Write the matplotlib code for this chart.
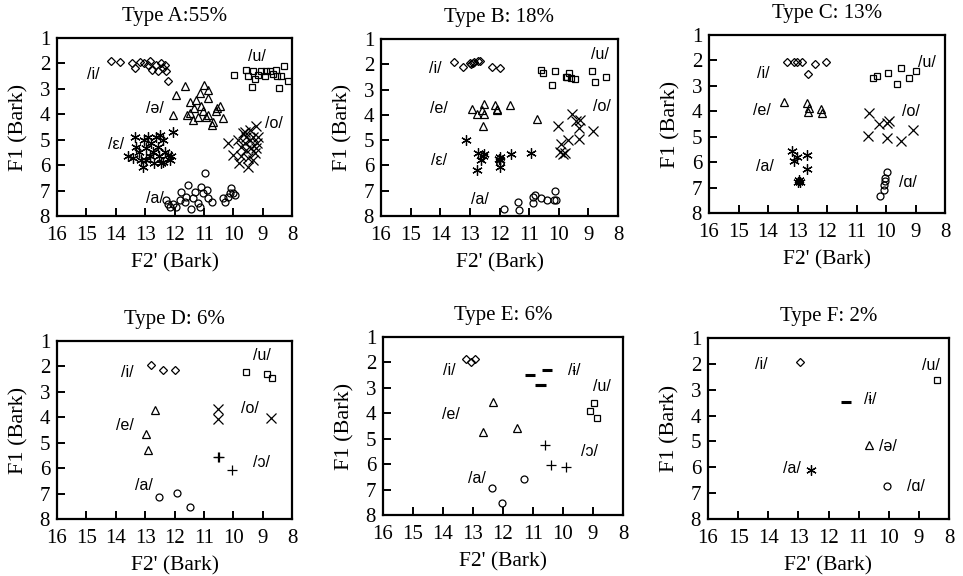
import matplotlib

matplotlib.use("Agg")

import matplotlib.pyplot as plt

plt.rcParams["font.family"] = "Liberation Serif"

# ---- data: (F2', F1) in Bark ----
A_i = [(14.15, 1.89), (13.87, 1.95), (13.43, 1.99), (13.35, 2.18), (13.18, 1.96), (12.9, 2.08),
       (12.84, 1.92), (12.75, 2.25), (12.62, 2.05), (12.56, 2.29), (12.47, 1.98), (12.39, 2.18),
       (12.31, 2.05), (12.28, 2.31), (12.22, 2.68), (13.05, 2.0)]
A_u = [(9.97, 2.45), (9.55, 2.25), (9.5, 2.49), (9.33, 2.31), (9.27, 2.62), (9.35, 2.93),
       (9.16, 2.45), (9.04, 2.29), (8.93, 2.49), (8.76, 2.31), (8.64, 2.41), (8.5, 2.51),
       (8.38, 2.49), (8.27, 2.12), (8.44, 2.97), (8.13, 2.68), (8.53, 2.25), (8.87, 2.31)]
A_schwa = [(11.96, 3.23), (12.04, 4.02), (11.65, 2.9), (11.48, 3.5), (11.35, 3.76), (11.48, 3.96),
           (11.27, 3.43), (11.2, 4.09), (11.09, 3.69), (11.03, 3.89), (11.01, 2.84), (11.14, 3.17),
           (10.86, 3.37), (10.92, 4.09), (10.86, 4.02), (10.74, 4.42), (10.69, 4.29), (10.57, 3.76),
           (10.44, 3.67), (10.35, 4.15), (10.86, 3.04), (11.59, 4.02), (11.36, 4.22), (10.6, 3.87)]
A_eps = [(13.58, 5.66), (13.41, 5.73), (13.35, 4.88), (13.3, 5.27), (13.21, 5.47), (13.13, 5.8),
         (13.07, 6.06), (13.05, 5.01), (12.96, 5.34), (12.9, 4.88), (12.84, 5.66), (12.79, 5.14),
         (12.73, 5.47), (12.7, 5.93), (12.62, 4.88), (12.56, 5.27), (12.53, 5.66), (12.45, 5.93),
         (12.39, 5.01), (12.33, 5.47), (12.22, 5.6), (12.16, 5.8), (12.11, 5.66), (12.05, 4.68),
         (12.5, 4.81), (12.39, 5.86), (12.96, 5.8)]
A_o = [(10.18, 5.11), (10.01, 5.6), (9.8, 5.93), (9.72, 5.66), (9.67, 4.74), (9.61, 5.14),
       (9.55, 5.4), (9.5, 5.73), (9.44, 4.61), (9.42, 5.01), (9.38, 5.34), (9.33, 4.88),
       (9.27, 5.53), (9.21, 4.48), (9.19, 5.14), (9.16, 4.88), (9.55, 4.88), (9.72, 5.27),
       (9.33, 5.8), (9.5, 6.06), (9.61, 4.68), (9.84, 5.01), (9.24, 5.34)]
A_a = [(12.28, 7.37), (12.22, 7.53), (12.14, 7.66), (12.05, 7.53), (11.94, 7.64), (11.82, 7.37),
       (11.77, 7.04), (11.65, 7.44), (11.6, 7.24), (11.54, 6.78), (11.43, 7.74), (11.37, 7.31),
       (11.31, 7.04), (11.2, 7.5), (11.14, 7.64), (11.03, 7.11), (11.09, 6.85), (10.97, 6.3),
       (10.91, 6.97), (10.86, 7.31), (10.74, 7.44), (10.35, 7.31), (10.29, 7.44), (10.18, 7.24),
       (10.06, 6.91), (10.01, 7.11), (9.95, 7.18), (10.12, 7.08)]

B_i = [(13.55, 1.9), (13.24, 2.12), (12.99, 1.96), (12.9, 1.94), (12.86, 1.9), (12.74, 1.87),
       (12.65, 1.86), (12.24, 2.1), (11.98, 2.16), (12.96, 1.99)]
B_u = [(10.59, 2.23), (10.54, 2.33), (10.14, 2.27), (10.23, 2.82), (9.72, 2.52), (9.64, 2.33),
       (9.59, 2.56), (9.44, 2.6), (8.88, 2.27), (8.77, 2.69), (8.39, 2.49), (9.75, 2.52)]
B_e = [(12.94, 3.75), (12.77, 3.95), (12.54, 3.58), (12.52, 3.95), (12.15, 3.62), (12.07, 3.75),
       (12.07, 3.81), (12.56, 4.45), (11.64, 3.62), (10.74, 4.18), (12.6, 3.81)]
B_o = [(10.04, 4.45), (9.93, 5.16), (9.95, 5.46), (9.84, 5.56), (9.7, 5.0), (9.55, 3.95),
       (9.41, 4.24), (9.3, 4.5), (9.3, 4.94), (9.27, 4.19), (8.85, 4.63), (9.78, 5.5)]
B_eps = [(13.14, 5.0), (12.74, 5.5), (12.77, 6.17), (12.57, 5.64), (12.54, 5.56), (12.63, 5.77),
         (12.03, 5.74), (12.0, 5.66), (11.98, 6.06), (11.62, 5.56), (10.94, 5.5), (11.98, 5.77)]
B_a = [(11.86, 7.71), (11.36, 7.45), (11.34, 7.75), (10.88, 7.25), (10.88, 7.49), (10.79, 7.18),
       (10.6, 7.27), (10.38, 7.38), (10.17, 7.35), (10.14, 7.02), (10.08, 7.35), (11.98, 5.9)]

C_i = [(13.37, 2.05), (13.12, 2.05), (13.03, 2.05), (12.86, 2.05), (12.64, 2.53), (12.41, 2.14),
       (12.05, 2.07)]
C_u = [(10.44, 2.7), (10.3, 2.6), (9.93, 2.51), (9.62, 2.94), (9.48, 2.28), (9.22, 2.71), (9.0, 2.41)]
C_e = [(13.46, 3.64), (12.67, 3.68), (12.63, 4.01), (12.61, 3.88), (12.21, 3.92), (12.16, 4.05)]
C_o = [(10.58, 4.08), (10.6, 4.99), (10.23, 4.49), (9.98, 4.47), (9.89, 4.4), (9.98, 5.06),
       (9.48, 5.15), (9.1, 4.73)]
C_a = [(13.2, 5.58), (13.12, 5.97), (13.03, 5.78), (12.69, 5.71), (12.69, 6.27), (12.94, 6.69),
       (12.92, 6.8), (13.0, 6.8)]
C_ao = [(9.98, 6.37), (10.04, 6.63), (10.04, 6.76), (10.06, 6.89), (10.07, 7.11), (10.19, 7.32)]

D_i = [(12.8, 1.93), (12.38, 2.13), (11.98, 2.13)]
D_u = [(9.57, 2.22), (8.84, 2.28), (8.67, 2.44)]
D_e = [(12.66, 3.72), (12.96, 4.64), (12.9, 5.27)]
D_o = [(10.51, 3.66), (10.51, 4.05), (8.7, 4.02)]
D_oo = [(10.51, 5.55), (10.48, 5.55), (10.04, 6.08)]
D_a = [(12.52, 7.15), (11.93, 6.96), (11.48, 7.52)]

E_i = [(13.22, 1.88), (13.06, 1.98), (12.94, 1.88)]
E_bar = [(11.11, 2.5), (10.52, 2.31), (10.72, 2.87), (10.76, 2.87)]
E_u = [(8.98, 3.59), (9.09, 3.91), (8.87, 4.18)]
E_e = [(12.33, 3.55), (12.67, 4.73), (11.53, 4.56)]
E_oo = [(10.59, 5.23), (10.41, 6.04), (9.91, 6.1)]
E_a = [(12.37, 6.92), (12.03, 7.51), (11.3, 6.59)]

F_i = [(12.94, 1.94)]
F_u = [(8.39, 2.64)]
F_bar = [(11.41, 3.47)]
F_schwa = [(10.67, 5.15)]
F_a = [(12.57, 6.09)]
F_ao = [(10.05, 6.73)]

# vowel labels: (text, F2', F1)
A_labels = [("/i/", 14.77, 2.45), ("/u/", 9.2, 1.72), ("/ə/", 12.67, 3.76),
            ("/o/", 8.6, 4.35), ("/ε/", 13.98, 5.2), ("/a/", 12.67, 7.3)]
B_labels = [("/i/", 14.17, 2.16), ("/u/", 8.6, 1.63), ("/e/", 14.06, 3.75),
            ("/o/", 8.54, 3.68), ("/ε/", 14.04, 5.8), ("/a/", 12.65, 7.34)]
C_labels = [("/i/", 14.16, 2.5), ("/u/", 8.61, 2.09), ("/e/", 14.22, 3.98),
            ("/o/", 9.14, 4.01), ("/a/", 14.1, 6.17), ("/ɑ/", 9.25, 6.82)]
D_labels = [("/i/", 13.62, 2.22), ("/u/", 9.04, 1.56), ("/e/", 13.68, 4.34),
            ("/o/", 9.42, 3.66), ("/ɔ/", 9.04, 5.79), ("/a/", 13.04, 6.67)]
E_labels = [("/i/", 13.78, 2.31), ("/ɨ/", 9.61, 2.31), ("/u/", 8.69, 2.96),
            ("/e/", 13.72, 4.04), ("/ɔ/", 9.11, 5.52), ("/a/", 12.87, 6.56)]
F_labels = [("/i/", 14.23, 2.03), ("/u/", 8.59, 2.07), ("/ɨ/", 10.63, 3.38),
            ("/ə/", 10.03, 5.19), ("/a/", 13.23, 6.06), ("/ɑ/", 9.09, 6.73)]

TITLES = ["Type A:55%", "Type B: 18%", "Type C: 13%", "Type D: 6%", "Type E: 6%", "Type F: 2%"]

MARKERS = {
    "diamond": dict(marker="D", ms=4.2),
    "square": dict(marker="s", ms=4.8),
    "triangle": dict(marker="^", ms=5.5),
    "cross": dict(marker="x", ms=6.5),
    "aster": dict(marker=(6, 2, 0), ms=7.5),
    "circle": dict(marker="o", ms=5.0),
    "plus": dict(marker="+", ms=6.5),
    "bar": dict(marker="_", ms=7.0, mew=2.2),
}

PANELS = [
    ([("diamond", A_i), ("square", A_u), ("triangle", A_schwa), ("aster", A_eps),
      ("cross", A_o), ("circle", A_a)], A_labels),
    ([("diamond", B_i), ("square", B_u), ("triangle", B_e), ("cross", B_o),
      ("aster", B_eps), ("circle", B_a)], B_labels),
    ([("diamond", C_i), ("square", C_u), ("triangle", C_e), ("cross", C_o),
      ("aster", C_a), ("circle", C_ao)], C_labels),
    ([("diamond", D_i), ("square", D_u), ("triangle", D_e), ("cross", D_o),
      ("plus", D_oo), ("circle", D_a)], D_labels),
    ([("diamond", E_i), ("bar", E_bar), ("square", E_u), ("triangle", E_e),
      ("plus", E_oo), ("circle", E_a)], E_labels),
    ([("diamond", F_i), ("square", F_u), ("bar", F_bar), ("triangle", F_schwa),
      ("aster", F_a), ("circle", F_ao)], F_labels),
]

# axes boxes in pixels: left, top, right, bottom
BOXES = [(57, 38, 292, 216), (381, 39, 618, 216), (709, 35, 945, 213),
         (57, 341, 292, 519), (383, 337, 623, 515), (708, 338, 949, 519)]

W, H = 963, 576
fig = plt.figure(figsize=(W / 100, H / 100), dpi=100)

for (series, labels), title, (l, t, r, b) in zip(PANELS, TITLES, BOXES):
    ax = fig.add_axes([l / W, 1 - b / H, (r - l) / W, (b - t) / H])
    for kind, pts in series:
        xs = [p[0] for p in pts]
        ys = [p[1] for p in pts]
        style = dict(MARKERS[kind])
        style.setdefault("mew", 0.9)
        ax.plot(xs, ys, ls="none", color="black", mfc="none", mec="black",
                clip_on=False, **style)
    for text, x, y in labels:
        ax.text(x, y, text, ha="center", va="center", fontsize=11.5,
                family="Liberation Sans")
    ax.set_xlim(16, 8)
    ax.set_ylim(8, 1)
    ax.set_xticks(range(8, 17))
    ax.set_yticks(range(1, 9))
    ax.tick_params(direction="in", length=6, width=1.4, labelsize=15,
                   top=False, right=False)
    ax.tick_params(axis="x", pad=7)
    ax.tick_params(axis="y", pad=5)
    for side in ["top", "right", "bottom", "left"]:
        ax.spines[side].set_linewidth(1.6)
    ax.set_title(title, fontsize=15, pad=12)
    ax.set_xlabel("F2' (Bark)", fontsize=15.5, labelpad=6)
    ax.set_ylabel("F1 (Bark)", fontsize=16, labelpad=8)

fig.savefig("out.png", dpi=100)
